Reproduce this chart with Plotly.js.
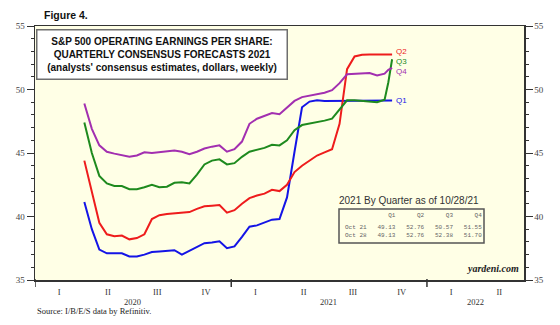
<!DOCTYPE html>
<html>
<head>
<meta charset="utf-8">
<script src="https://cdn.plot.ly/plotly-3.0.1.min.js"></script>
<style>
  html, body { margin: 0; padding: 0; background: #ffffff; }
  #chart { width: 560px; height: 325px; }
</style>
</head>
<body>
<div id="chart"></div>
<script>
// ---- data (weekly consensus estimates, sampled) ----
var dates = ['2020-04-02','2020-04-16','2020-04-30','2020-05-14','2020-05-28','2020-06-11','2020-06-25','2020-07-09','2020-07-23','2020-08-06','2020-08-20','2020-09-03','2020-09-17','2020-10-01','2020-10-15','2020-10-29','2020-11-12','2020-11-26','2020-12-10','2020-12-24','2021-01-07','2021-01-21','2021-02-04','2021-02-18','2021-03-04','2021-03-18','2021-04-01','2021-04-15','2021-04-29','2021-05-13','2021-05-27','2021-06-10','2021-06-24','2021-07-08','2021-07-22','2021-08-05','2021-08-19','2021-09-02','2021-09-16','2021-09-30','2021-10-14','2021-10-21','2021-10-28'];
var q1 = [41.15,39.0,37.4,37.1,37.1,37.1,36.85,36.85,37.0,37.2,37.25,37.3,37.35,37.0,37.3,37.6,37.9,37.95,38.05,37.5,37.65,38.4,39.2,39.3,39.5,39.75,39.8,41.5,45.1,48.6,49.05,49.15,49.1,49.1,49.13,49.13,49.13,49.13,49.13,49.13,49.13,49.13,49.13];
var q2 = [44.4,41.9,39.5,38.6,38.45,38.5,38.2,38.3,38.6,39.8,40.1,40.2,40.25,40.3,40.35,40.6,40.8,40.85,40.9,40.3,40.5,41.0,41.45,41.65,41.8,42.1,42.0,42.5,43.5,44.0,44.4,44.8,45.05,45.3,47.3,51.6,52.6,52.74,52.76,52.76,52.76,52.76,52.76];
var q3 = [47.4,45.0,43.2,42.6,42.4,42.4,42.15,42.15,42.3,42.5,42.3,42.35,42.65,42.7,42.6,43.3,44.1,44.4,44.5,44.1,44.2,44.7,45.1,45.25,45.4,45.65,45.6,46.0,46.8,47.2,47.3,47.4,47.55,47.7,48.4,49.15,49.15,49.1,49.1,49.0,49.2,50.57,52.38];
var q4 = [48.9,46.9,45.6,45.1,44.95,44.85,44.7,44.8,45.05,45.0,45.05,45.1,45.2,45.1,44.9,45.1,45.35,45.5,45.6,45.1,45.3,45.9,47.3,47.7,47.9,48.15,48.05,48.6,49.1,49.4,49.5,49.6,49.75,49.95,50.5,51.2,51.25,51.3,51.3,51.1,51.25,51.55,51.7];

var seriesNames = ['Q1','Q2','Q3','Q4'];
var tableRowNames = ['Oct 21','Oct 28'];
var tableOct21 = [49.13,52.76,50.57,51.55];
var tableOct28 = [49.13,52.76,52.38,51.70];

var quarterTickVals = ['2020-02-15','2020-05-16','2020-08-16','2020-11-15','2021-02-15','2021-05-16','2021-08-16','2021-11-15','2022-02-15','2022-05-16'];
var quarterTickText = ['I','II','III','IV','I','II','III','IV','I','II'];
var yearLabelVals = ['2020-07-01','2021-07-01','2022-04-01'];
var yearLabelText = ['2020','2021','2022'];
var yearBoundaries = ['2020-01-01','2021-01-01','2022-01-01'];

// ---- styling ----
var colors = {Q1:'#1414e6', Q2:'#ee1c1c', Q3:'#1e8a1e', Q4:'#a22fb0'};
var serif = '"Liberation Serif", "Times New Roman", serif';
var sans = '"Liberation Sans", Arial, sans-serif';
var mono = '"Liberation Mono", "DejaVu Sans Mono", monospace';
var plotBg = '#ffffe6';

var allSeries = {Q1:q1, Q2:q2, Q3:q3, Q4:q4};
var traces = seriesNames.map(function(n){
  return {x: dates, y: allSeries[n], type:'scatter', mode:'lines', name:n,
          line:{color:colors[n], width:2}, hoverinfo:'skip', showlegend:false};
});
// dummy trace to register right axis
traces.push({x:[dates[0]], y:[null], yaxis:'y2', type:'scatter', mode:'lines', showlegend:false, hoverinfo:'skip'});

function pad(str, w){ while (str.length < w) str = ' ' + str; return str; }
function fmtRow(name, vals){
  var s = name;
  vals.forEach(function(v){ s += pad(v.toFixed(2), 8); });
  return s;
}
var header = pad('', 6);
seriesNames.forEach(function(n){ header += pad(n, 8); });
function nb(s){ return s.replace(/ /g, '&nbsp;'); }

// pixel helpers for paper coords (plot area 35..524 x, 26..280 y)
function px(x){ return (x - 35) / 489; }
function py(y){ return (280 - y) / 254; }

var tableFont = {family:mono, size:6, color:'#666'};
var annotations = [];
annotations.push({xref:'paper', yref:'paper', x:px(42), y:py(15), xanchor:'left', yanchor:'middle',
  text:'<b>Figure 4.</b>', showarrow:false, font:{family:sans, size:10.5, color:'#111'}});
annotations.push({xref:'paper', yref:'paper', x:px(162), y:py(54), xanchor:'center', yanchor:'middle',
  text:'<b>S&amp;P 500 OPERATING EARNINGS PER SHARE:<br>QUARTERLY CONSENSUS FORECASTS 2021<br>(analysts\' consensus estimates, dollars, weekly)</b>',
  showarrow:false, font:{family:sans, size:10, color:'#111'}, bgcolor:'#ffffff', bordercolor:'#6e6e6e', borderwidth:1.5,
  width:245, height:44, borderpad:2, align:'center'});
annotations.push({xref:'paper', yref:'paper', x:px(409), y:py(200), xanchor:'center', yanchor:'middle',
  text:'2021 By Quarter as of 10/28/21', showarrow:false, font:{family:sans, size:10, color:'#333'}});
annotations.push({xref:'paper', yref:'paper', x:px(343), y:py(215), xanchor:'left', yanchor:'middle',
  text:nb(header), showarrow:false, font:tableFont});
annotations.push({xref:'paper', yref:'paper', x:px(343), y:py(227.5), xanchor:'left', yanchor:'middle',
  text:nb(fmtRow(tableRowNames[0], tableOct21)), showarrow:false, font:tableFont});
annotations.push({xref:'paper', yref:'paper', x:px(343), y:py(235), xanchor:'left', yanchor:'middle',
  text:nb(fmtRow(tableRowNames[1], tableOct28)), showarrow:false, font:tableFont});
annotations.push({xref:'paper', yref:'paper', x:px(521), y:py(268), xanchor:'right', yanchor:'middle',
  text:'<b><i>yardeni.com</i></b>', showarrow:false, font:{family:serif, size:10, color:'#222'}});
annotations.push({xref:'paper', yref:'paper', x:0, y:py(311), xanchor:'left', yanchor:'middle',
  text:'Source: I/B/E/S data by Refinitiv.', showarrow:false, font:{family:serif, size:8.5, color:'#222'}});
yearLabelVals.forEach(function(v, i){
  annotations.push({xref:'x', yref:'paper', x:v, y:py(302), xanchor:'center', yanchor:'middle',
    text:yearLabelText[i], showarrow:false, font:{family:serif, size:8.5, color:'#333'}});
});
var labelShift = {Q1:0, Q2:3, Q3:-2, Q4:-3.5};
seriesNames.forEach(function(n){
  var arr = allSeries[n];
  annotations.push({xref:'x', yref:'y', x:dates[dates.length-1], y:arr[arr.length-1], xanchor:'left', yanchor:'middle',
    xshift:2, yshift:labelShift[n], text:n, showarrow:false, font:{family:sans, size:8, color:colors[n]}});
});

var shapes = [{type:'rect', xref:'paper', yref:'paper', x0:px(339), x1:px(484), y0:py(243), y1:py(209),
  line:{color:'#555', width:1.5}, fillcolor:'rgba(0,0,0,0)'}];
// year-boundary tick marks below the time axis
yearBoundaries.forEach(function(d){
  shapes.push({type:'line', xref:'x', yref:'paper', x0:d, x1:d, y0:py(279), y1:py(287),
    line:{color:'#333', width:1.5}, layer:'above'});
});

var yCommon = {range:[35,55], dtick:5, tick0:35, ticks:'outside', ticklen:7, tickwidth:1, tickcolor:'#333',
  showline:true, linecolor:'#333', linewidth:1.5, showgrid:false, zeroline:false, fixedrange:true,
  tickfont:{family:serif, size:9, color:'#444'},
  minor:{dtick:1, tick0:35, ticks:'outside', ticklen:3, tickcolor:'#333', tickwidth:1, showgrid:false}};

var layout = {
  width:560, height:325,
  margin:{l:35, r:36, t:26, b:45},
  paper_bgcolor:'#ffffff', plot_bgcolor:plotBg,
  showlegend:false,
  xaxis:{type:'date', range:['2020-01-01','2022-07-01'], tickmode:'array', tickvals:quarterTickVals, ticktext:quarterTickText,
    ticks:'', ticklabelstandoff:3,
    tickfont:{family:serif, size:8.5, color:'#333'},
    showline:true, linecolor:'#333', linewidth:1.5, mirror:true, showgrid:false, zeroline:false},
  yaxis:Object.assign({}, yCommon, {side:'left'}),
  yaxis2:Object.assign({}, yCommon, {side:'right', overlaying:'y'}),
  annotations:annotations,
  shapes:shapes
};

Plotly.newPlot('chart', traces, layout, {staticPlot:true, displayModeBar:false});
</script>
</body>
</html>
